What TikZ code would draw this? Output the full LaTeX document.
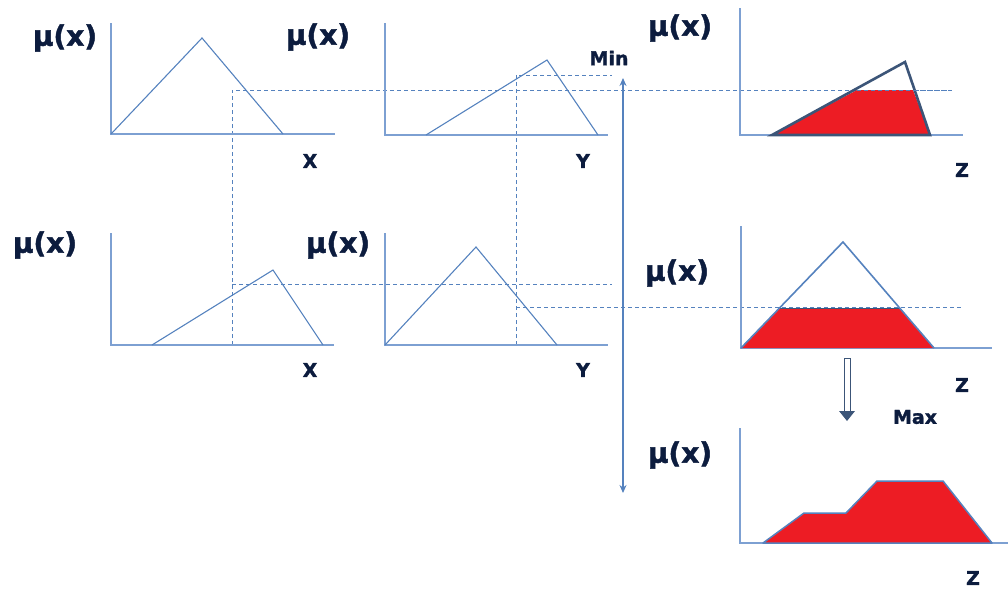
\documentclass[tikz,border=0pt]{standalone}
\usepackage{fontspec}
\setmainfont{DejaVu Sans}
\newfontfamily\heavyfont[FakeBold=1.6]{DejaVu Sans Bold}
\usetikzlibrary{arrows.meta}
\definecolor{axisblue}{RGB}{125,160,210}
\definecolor{lineblue}{RGB}{85,130,190}
\definecolor{darkline}{RGB}{60,85,120}
\definecolor{navy}{RGB}{12,28,62}
\definecolor{fred}{RGB}{237,28,36}
\tikzset{
  axis/.style={draw=axisblue, line width=1.2pt},
  mf/.style={draw=lineblue, line width=1.1pt},
  guide/.style={draw=lineblue, line width=0.9pt, dash pattern=on 4pt off 3pt},
  mulabel/.style={text=navy, font=\heavyfont\fontsize{28}{28}\selectfont, inner sep=0pt},
  varlabel/.style={text=navy, font=\heavyfont\fontsize{19}{19}\selectfont, inner sep=0pt},
  oplabel/.style={text=navy, font=\heavyfont\fontsize{19}{19}\selectfont, inner sep=0pt},
  area/.style={fill=fred}
}
\begin{document}
\begin{tikzpicture}[x=1pt,y=-1pt]
\useasboundingbox (0,0) rectangle (1008,592);

% guides
\draw[guide] (232,345) -- (232,90) -- (952,90);
\draw[guide] (516,345) -- (516,75) -- (612,75);
\draw[guide] (232,284) -- (612,284);
\draw[guide] (516,307) -- (962,307);

% ---- panel 1 (top-left)
\draw[axis] (111,23) -- (111,134) -- (335,134);
\draw[mf] (111,134) -- (202,38) -- (283,134);
\node[mulabel] (mu1) at (65,38) {μ(x)};
\node[varlabel] (x1) at (310,161) {X};

% ---- panel 2 (top-middle)
\draw[axis] (385,23) -- (385,135) -- (608,135);
\draw[mf] (426,135) -- (547,60) -- (598,135);
\node[mulabel] (mu2) at (318,37) {μ(x)};
\node[varlabel] (y1) at (583,161) {Y};

% ---- panel 4 (bottom-left)
\draw[axis] (111,233) -- (111,345) -- (334,345);
\draw[mf] (152,345) -- (273,270) -- (323,345);
\node[mulabel] (mu4) at (45,245) {μ(x)};
\node[varlabel] (x2) at (310,370) {X};

% ---- panel 5 (bottom-middle)
\draw[axis] (385,233) -- (385,345) -- (608,345);
\draw[mf] (385,345) -- (476,247) -- (557,345);
\node[mulabel] (mu5) at (338,245) {μ(x)};
\node[varlabel] (y2) at (583,370) {Y};

% ---- Min arrow
\coordinate (mintop) at (623,78);
\coordinate (minbot) at (623,493);
\draw[mf, line width=1.3pt, {Stealth[length=8pt,width=7pt]}-{Stealth[length=8pt,width=7pt]}] (mintop) -- (minbot);
\node[oplabel] (min) at (609,58) {Min};

% ---- panel 3 (top-right)
\draw[axis] (740,8) -- (740,135) -- (963,135);
\fill[area] (772,135) -- (857,90) -- (913,90) -- (930,135) -- cycle;
\draw[draw=darkline, line width=2.6pt, line join=miter] (772,135) -- (905,62) -- (930,135) -- cycle;
\draw[guide] (857,90) -- (952,90);
\node[mulabel] (mu3) at (680,28) {μ(x)};
\node[varlabel] (z1) at (962,170) {Z};

% ---- panel 6 (middle-right)
\draw[axis] (741,226) -- (741,348) -- (992,348);
\fill[area] (741,348) -- (780,308) -- (900,308) -- (934,348) -- cycle;
\draw[draw=darkline, line width=0.8pt] (780,308) -- (900,308);
\draw[mf, line width=1.6pt] (741,348) -- (843,242) -- (934,348);
\node[mulabel] (mu6) at (677,273) {μ(x)};
\node[varlabel] (z2) at (962,385) {Z};

% ---- Max arrow (hollow shaft, dark head)
\coordinate (maxtop) at (847,358);
\coordinate (maxbot) at (847,421);
\draw[draw=darkline, fill=white, line width=0.9pt] ([xshift=-3pt]maxtop) rectangle ([xshift=3pt,yshift=9pt]maxbot);
\fill[darkline] ([xshift=-8pt,yshift=10pt]maxbot) -- ([xshift=8pt,yshift=10pt]maxbot) -- (maxbot) -- cycle;
\node[oplabel] (max) at (915,417) {Max};

% ---- panel 7 (bottom-right)
\draw[axis] (740,428) -- (740,543) -- (1008,543);
\draw[area, draw=lineblue, line width=1.5pt, line join=round] (763,543) -- (804,513) -- (846,513) -- (877,481) -- (943,481) -- (992,543) -- cycle;
\node[mulabel] (mu7) at (680,455) {μ(x)};
\node[varlabel] (z3) at (973,578) {Z};
\end{tikzpicture}
\end{document}
